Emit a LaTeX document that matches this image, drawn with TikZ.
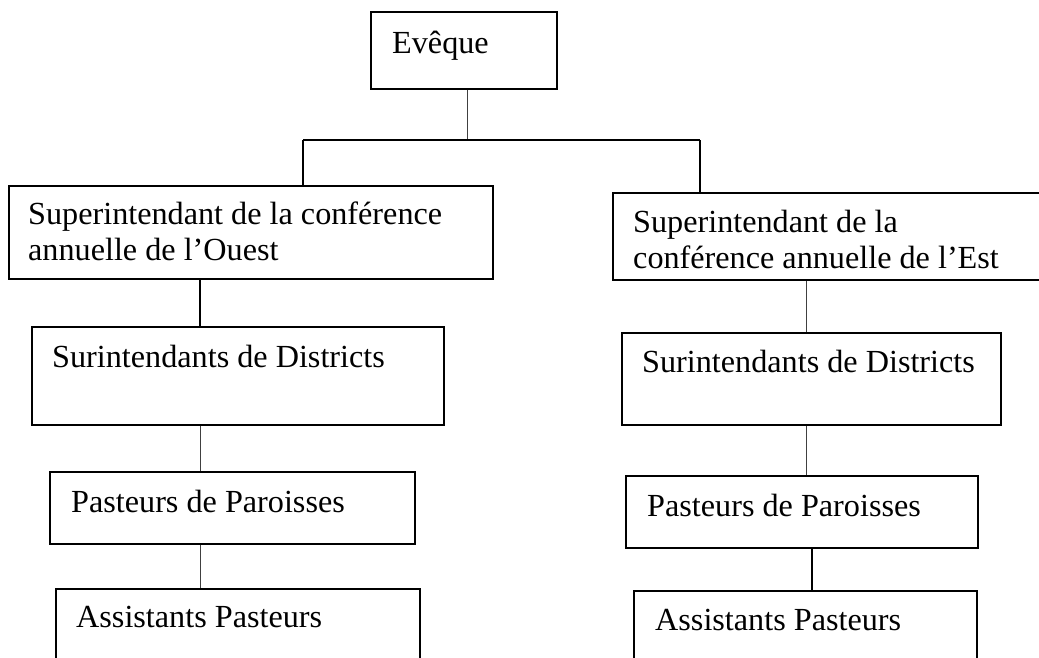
\documentclass[tikz,border=0pt]{standalone}
\usepackage{fontspec}
\setmainfont{Liberation Serif}
\begin{document}
\begin{tikzpicture}[x=1pt,y=-1pt,
  box/.style={draw=black,line width=1.6pt,rectangle,inner sep=0pt,anchor=north west},
  lbl/.style={font=\fontsize{32.2}{36}\selectfont,inner sep=0pt,align=left,anchor=base west},
  thickline/.style={line width=1.6pt,draw=black},
  thinline/.style={line width=0.9pt,draw=black!75}]
\useasboundingbox (0,0) rectangle (1039,657);
\clip (0,0) rectangle (1039,657);
% boxes
\node[box,minimum width=186,minimum height=77] (ev) at (370,11) {};
\node[lbl] (evt) at (392,53) {Evêque};
\node[box,minimum width=484,minimum height=93] (lsup) at (8,185) {};
\node[lbl] (lsupt) at (28,260) {Superintendant de la conférence\\annuelle de l’Ouest};
\node[box,minimum width=433,minimum height=87] (rsup) at (612,192) {};
\node[lbl] (rsupt) at (633,268) {Superintendant de la\\conférence annuelle de l’Est};
\node[box,minimum width=412,minimum height=98] (lsd) at (31,326) {};
\node[lbl] (lsdt) at (52,367) {Surintendants de Districts};
\node[box,minimum width=379,minimum height=92] (rsd) at (621,332) {};
\node[lbl] (rsdt) at (642,372) {Surintendants de Districts};
\node[box,minimum width=365,minimum height=72] (lpp) at (49,471) {};
\node[lbl] (lppt) at (71,512) {Pasteurs de Paroisses};
\node[box,minimum width=352,minimum height=72] (rpp) at (625,475) {};
\node[lbl] (rppt) at (647,516) {Pasteurs de Paroisses};
\node[box,minimum width=364,minimum height=100] (las) at (55,588) {};
\node[lbl] (last) at (76,627) {Assistants Pasteurs};
\node[box,minimum width=343,minimum height=100] (ras) at (633,590) {};
\node[lbl] (rast) at (655,630) {Assistants Pasteurs};
% connector x positions
\coordinate (xe) at (467,0);
\coordinate (xl) at (200,0);
\coordinate (xr) at (806,0);
\coordinate (xr2) at (812,0);
\coordinate (jl) at (303,140);
\coordinate (jr) at (700,140);
% connectors
\draw[thinline] (xe |- ev.south) -- (xe |- jl);
\draw[thickline] (jl) -- (jr);
\draw[thickline] (jl) -- (jl |- lsup.north);
\draw[thickline] (jr) -- (jr |- rsup.north);
\draw[thickline] (xl |- lsup.south) -- (xl |- lsd.north);
\draw[thinline] (xl |- lsd.south) -- (xl |- lpp.north);
\draw[thinline] (xl |- lpp.south) -- (xl |- las.north);
\draw[thinline] (xr |- rsup.south) -- (xr |- rsd.north);
\draw[thinline] (xr |- rsd.south) -- (xr |- rpp.north);
\draw[thickline] (xr2 |- rpp.south) -- (xr2 |- ras.north);
\end{tikzpicture}
\end{document}
